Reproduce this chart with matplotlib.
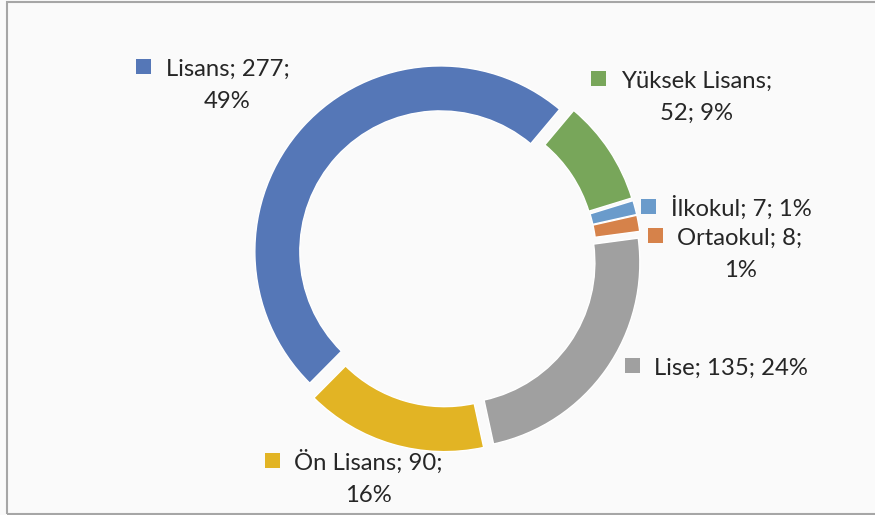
import matplotlib
matplotlib.use("Agg")
import matplotlib.pyplot as plt
from matplotlib.patches import Rectangle

# ---- data ----
categories = ["Yüksek Lisans", "İlkokul", "Ortaokul", "Lise", "Ön Lisans", "Lisans"]
counts = [52, 7, 8, 135, 90, 277]
colors = ["#78A65A", "#6A9BCB", "#D6824A", "#A0A0A0", "#E2B424", "#5577B7"]

# ---- layout (pixels from top-left) ----
W, H = 875, 515
cx, cy = 447.0, 257.5
R = 185.5
ring = 45
explode_px = 9
# label layout: text centre x, first baseline y, marker centre (x, y), segments on line 1
label_layout = {
    "Lisans":        (227.5, 76, (143.5, 66.5), 2),
    "Yüksek Lisans": (696.5, 88, (598.5, 78.5), 1),
    "İlkokul":       (741.0, 216, (648.5, 206.5), 3),
    "Ortaokul":      (740.0, 245, (655.5, 235.5), 2),
    "Lise":          (730.5, 375, (632.5, 365.5), 3),
    "Ön Lisans":     (368.0, 470, (272.5, 460.5), 2),
}
line_gap = 32
font = ["Lato", "DejaVu Sans"]
fsize = 17.2
text_color = "#262626"

fig = plt.figure(figsize=(W / 100, H / 100), dpi=100)
fig.patch.set_facecolor("#FAFAFA")
ax = fig.add_axes([0, 0, 1, 1])

def Y(py):
    return H - py

# explode is applied in data units (pixels here)
ax.pie(counts, radius=R, center=(cx, Y(cy)), startangle=50, counterclock=False,
       colors=colors, explode=[explode_px] * len(counts),
       wedgeprops=dict(width=ring, edgecolor="white", linewidth=1.0), frame=True)
ax.set_xlim(0, W)
ax.set_ylim(0, H)
ax.set_aspect("equal")
ax.axis("off")

total = sum(counts)
for name, val, col in zip(categories, counts, colors):
    pct = round(100 * val / total)
    parts = [name, str(val), f"{pct}%"]
    tx, base, (mx, my), n1 = label_layout[name]
    line1 = "; ".join(parts[:n1]) + (";" if n1 < 3 else "")
    line2 = "; ".join(parts[n1:])
    ax.text(tx, Y(base), line1, ha="center", va="baseline", fontsize=fsize,
            family=font, color=text_color)
    if line2:
        ax.text(tx, Y(base + line_gap), line2, ha="center", va="baseline",
                fontsize=fsize, family=font, color=text_color)
    s = 15
    ax.add_patch(Rectangle((mx - s / 2, Y(my) - s / 2), s, s, facecolor=col,
                           edgecolor="none"))

# frame border
ax.add_patch(Rectangle((6.5, 1.5), W, H - 3, fill=False, edgecolor="#A6A6A6",
                       linewidth=1.5, clip_on=False))

fig.savefig("out.png", dpi=100, facecolor=fig.get_facecolor())
